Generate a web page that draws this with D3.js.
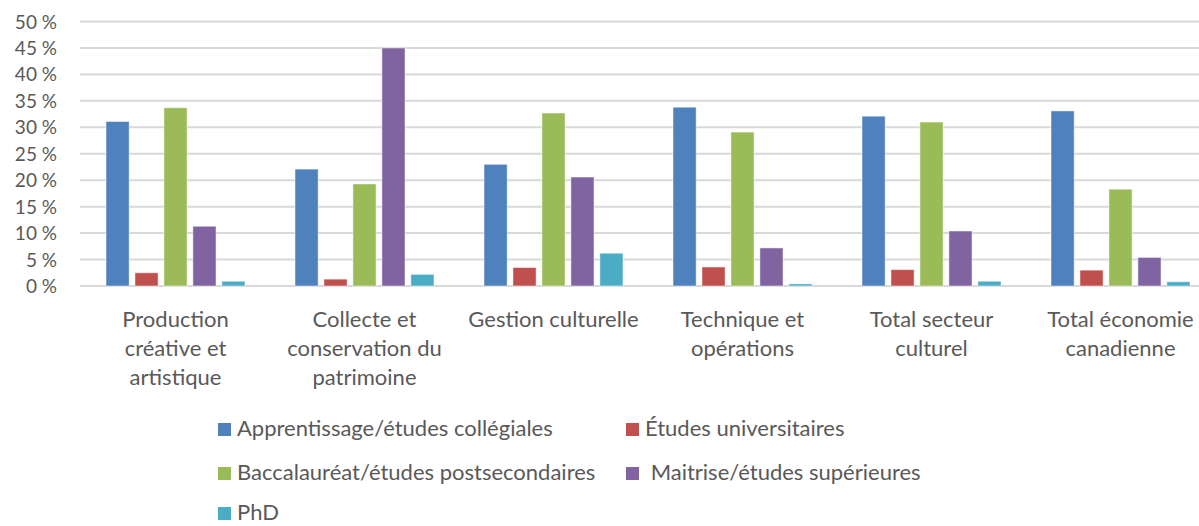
<!DOCTYPE html>
<html>
<head>
<meta charset="utf-8">
<script src="https://cdn.jsdelivr.net/npm/d3@7"></script>
<style>
  body { margin: 0; background: #fff; }
  svg text { font-family: Lato, "Open Sans", sans-serif; fill: #595959; }
</style>
</head>
<body>
<div id="chart"></div>
<script>
// categories (each one is a list of label lines)
var categories = [
  ["Production", "créative et", "artistique"],
  ["Collecte et", "conservation du", "patrimoine"],
  ["Gestion culturelle"],
  ["Technique et", "opérations"],
  ["Total secteur", "culturel"],
  ["Total économie", "canadienne"]
];
var seriesNames = [
  "Apprentissage/études collégiales",
  "Études universitaires",
  "Baccalauréat/études postsecondaires",
  " Maitrise/études supérieures",
  "PhD"
];
var apprentissage = [31.1, 22.1, 23.0, 33.8, 32.1, 33.1];
var universitaires = [2.5, 1.3, 3.5, 3.6, 3.1, 3.0];
var baccalaureat = [33.7, 19.3, 32.7, 29.1, 31.0, 18.3];
var maitrise = [11.3, 45.0, 20.6, 7.2, 10.4, 5.4];
var phd = [0.9, 2.2, 6.2, 0.4, 0.9, 0.8];
var yTicks = [0, 5, 10, 15, 20, 25, 30, 35, 40, 45, 50];
var colours = ["#4F81BD", "#C0504D", "#9BBB59", "#8064A2", "#4BACC6"];

var allSeries = [apprentissage, universitaires, baccalaureat, maitrise, phd];

var width = 1199, height = 526;
var svg = d3.select("#chart").append("svg")
  .attr("width", width).attr("height", height);

// plot runs past the right edge of the picture, like the original
var x0 = d3.scaleBand().domain(d3.range(categories.length)).range([81, 1215]);
var x1 = d3.scaleBand().domain(d3.range(allSeries.length))
  .range([25, x0.bandwidth() - 25]).paddingInner(0.2);
var y = d3.scaleLinear().domain([0, 50]).range([286, 21.5]);

// gridlines
svg.append("g").selectAll("line").data(yTicks).enter().append("line")
  .attr("x1", 80).attr("x2", width)
  .attr("y1", function(d) { return y(d); })
  .attr("y2", function(d) { return y(d); })
  .attr("stroke", "#D9D9D9").attr("stroke-width", 2);

// y tick labels
svg.append("g").selectAll("text").data(yTicks).enter().append("text")
  .attr("x", 57).attr("y", function(d) { return y(d) + 7; })
  .attr("text-anchor", "end").style("font-size", "19px")
  .text(function(d) { return d + " %"; });

// bars
var groups = svg.append("g").selectAll("g").data(categories).enter().append("g")
  .attr("transform", function(d, i) { return "translate(" + x0(i) + ",0)"; });

groups.selectAll("rect")
  .data(function(d, i) { return allSeries.map(function(s, j) { return {s: j, v: s[i]}; }); })
  .enter().append("rect")
  .attr("x", function(d) { return x1(d.s); })
  .attr("width", x1.bandwidth())
  .attr("y", function(d) { return y(d.v); })
  .attr("height", function(d) { return y(0) - y(d.v); })
  .attr("fill", function(d) { return colours[d.s]; })
  .attr("stroke", "#fff").attr("stroke-opacity", 0.5).attr("stroke-width", 1);

// category labels
groups.each(function(lines) {
  var t = d3.select(this).append("text")
    .attr("text-anchor", "middle").style("font-size", "22px");
  lines.forEach(function(l, k) {
    t.append("tspan").attr("x", x0.bandwidth() / 2).attr("y", 327 + k * 29).text(l);
  });
});

// legend
var legendPos = [[218, 436], [626, 436], [218, 480], [626, 480], [218, 520]];
var legend = svg.append("g").selectAll("g").data(seriesNames).enter().append("g")
  .attr("transform", function(d, i) { return "translate(" + legendPos[i][0] + "," + legendPos[i][1] + ")"; });
legend.append("rect").attr("x", 0).attr("y", -13).attr("width", 13).attr("height", 13)
  .attr("fill", function(d, i) { return colours[i]; });
legend.append("text").attr("x", 19).attr("y", 0)
  .style("font-size", "22px")
  .attr("xml:space", "preserve")
  .text(function(d) { return d; });
</script>
</body>
</html>
